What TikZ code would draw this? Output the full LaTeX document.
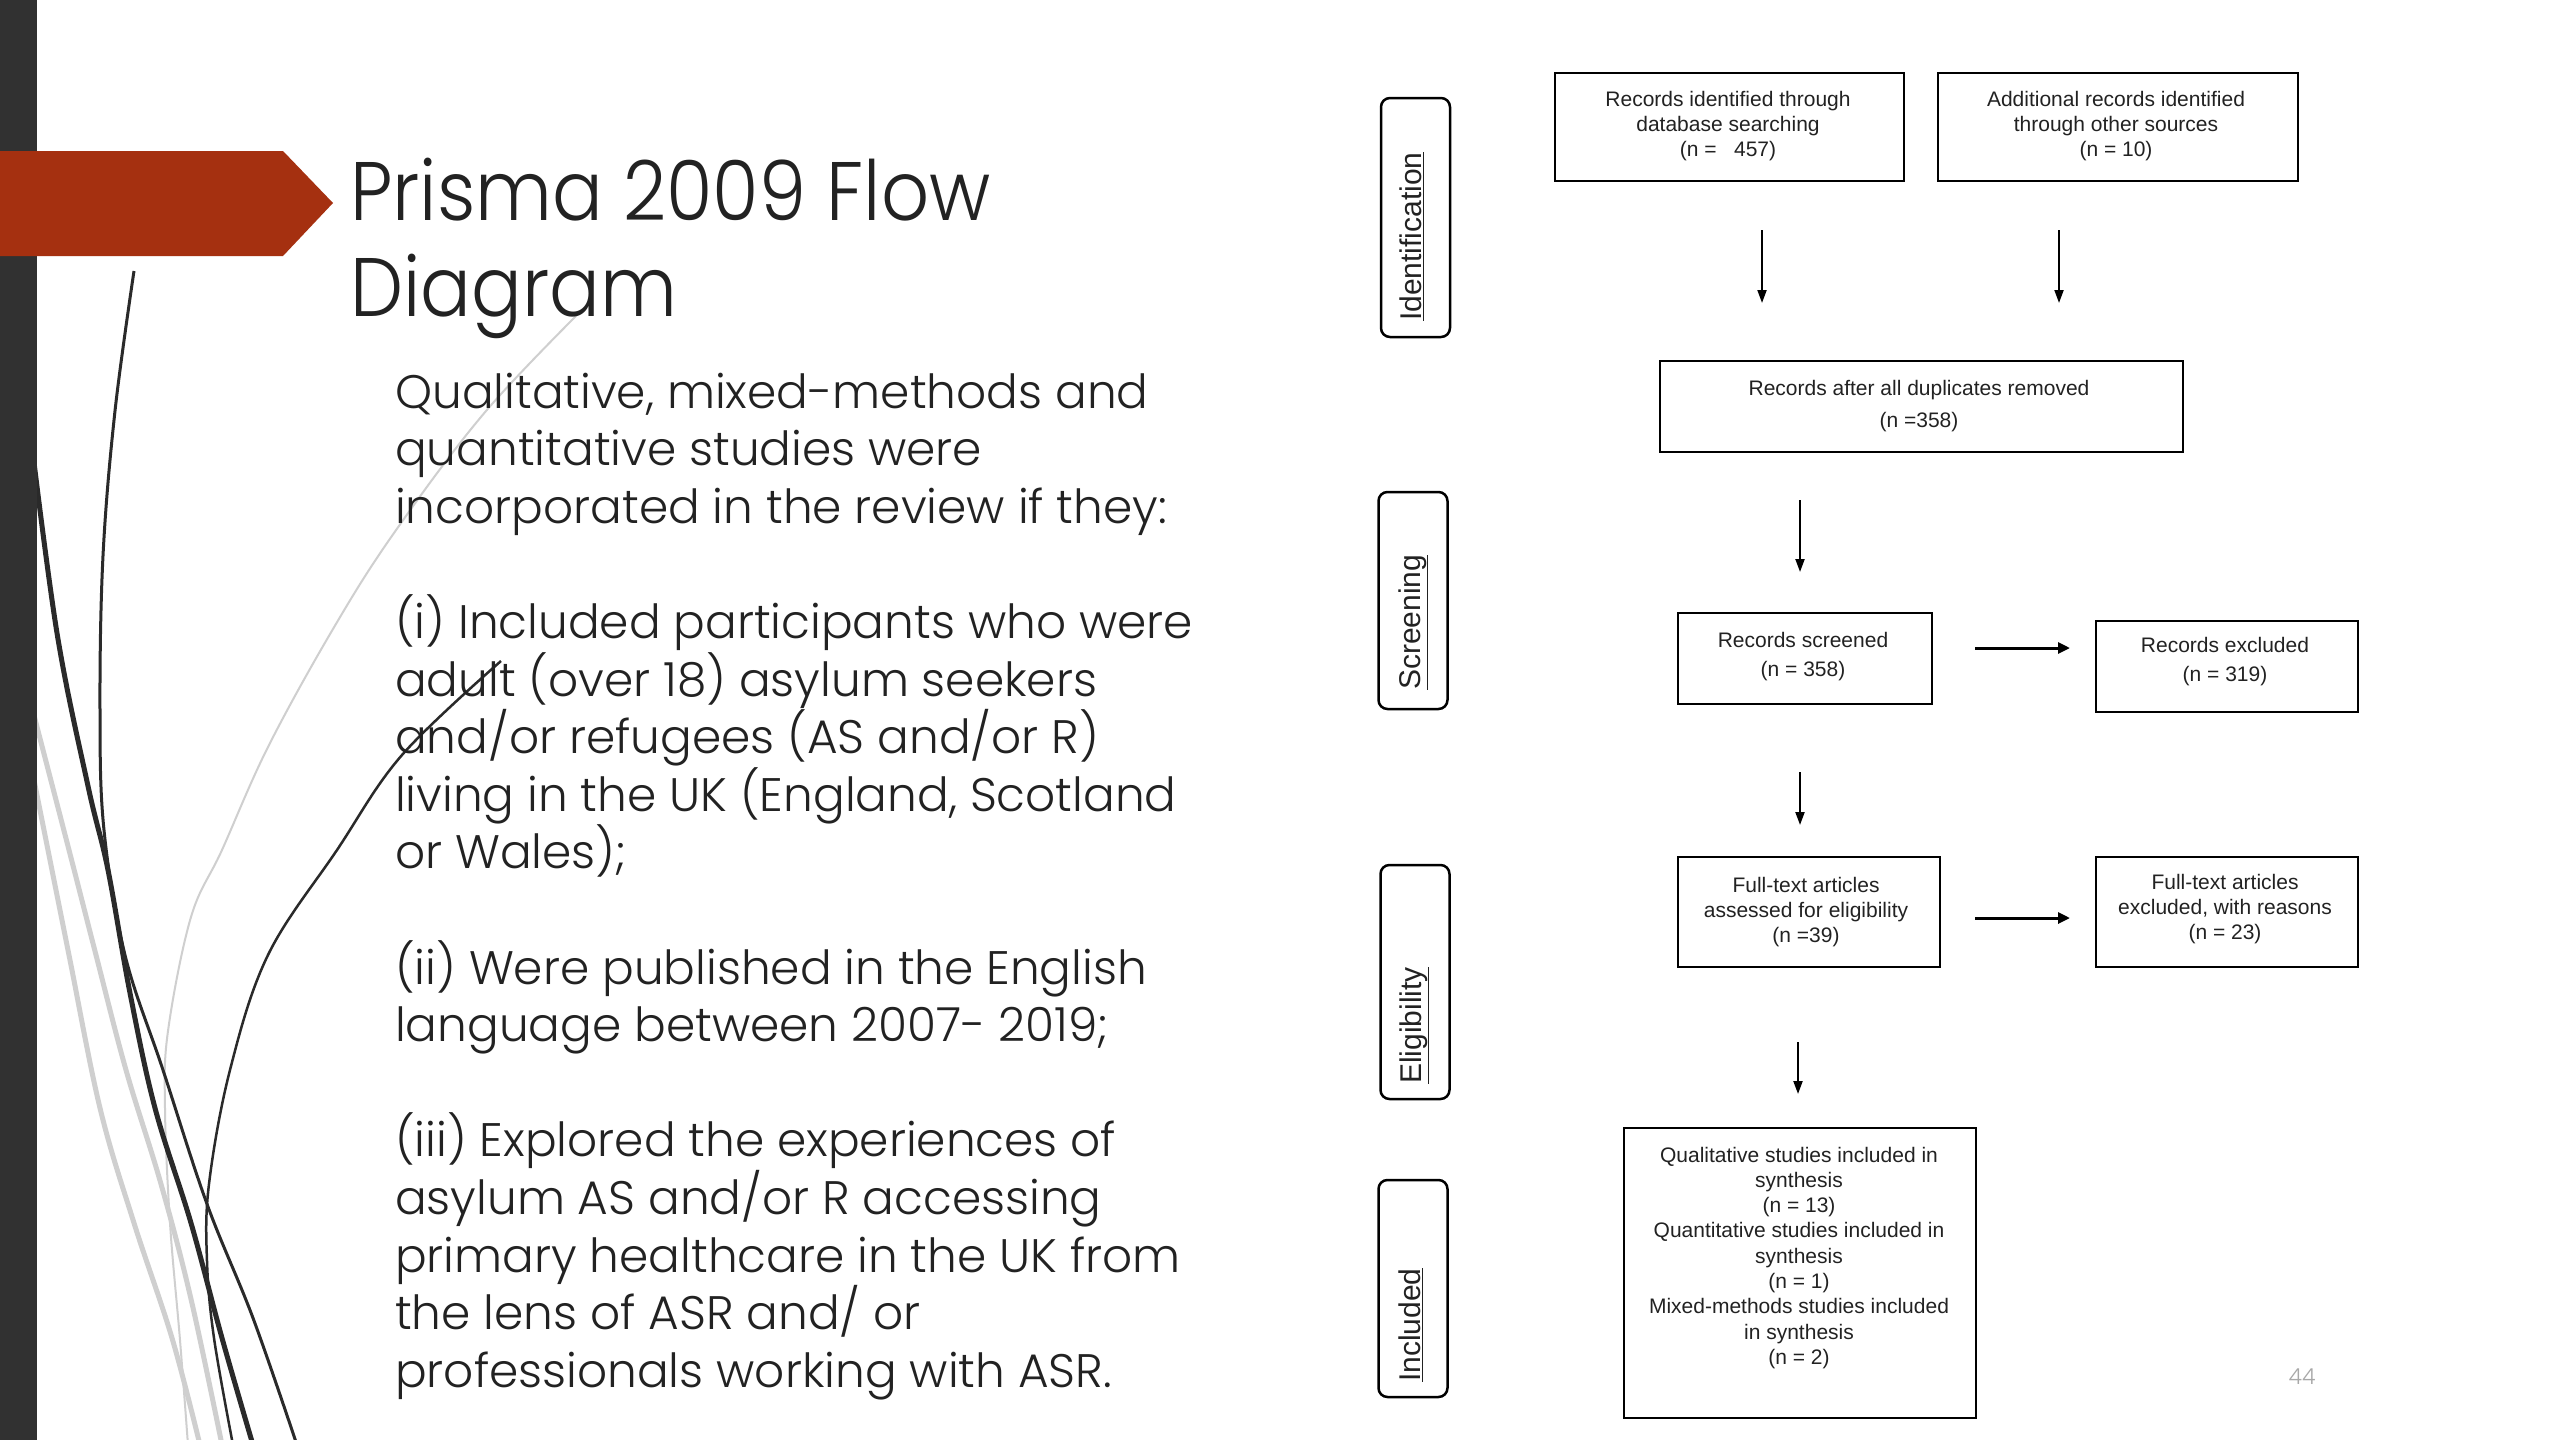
\documentclass[tikz,border=0pt]{standalone}
\usepackage{graphicx}
\usepackage{fontspec}
\usetikzlibrary{arrows.meta}
\setmainfont{Liberation Sans}
\IfFontExistsTF{Poppins Light}{\newfontfamily\gothic{Poppins Light}}{\newfontfamily\gothic{Poppins}}
\newfontfamily\arialf{Liberation Sans}
\definecolor{rust}{HTML}{A53010}
\definecolor{barc}{HTML}{313131}
\definecolor{inkc}{HTML}{222222}
\definecolor{curvedark}{HTML}{2A2A2A}
\definecolor{curvegray}{HTML}{CFCFCF}
\definecolor{pagenum}{HTML}{A8A8A8}
\tikzset{
  fbox/.style={draw=black, line width=2.5pt, inner sep=0pt},
  stagebox/.style={draw=black, line width=2.5pt, rounded corners=9pt, inner sep=0pt, minimum width=69pt},
  stagelabel/.style={rotate=90, anchor=base west, inner sep=0pt, text=inkc, font=\arialf\fontsize{30}{36}\selectfont},
  btxt/.style={anchor=base, inner sep=0pt, align=center, text=inkc},
  body/.style={anchor=base west, inner sep=0pt, text=inkc, font=\gothic\fontsize{47}{57.6}\selectfont},
  ttl/.style={anchor=base west, inner sep=0pt, text=inkc, font=\gothic\fontsize{83}{96}\selectfont},
  downarrow/.style={draw=black, line width=2pt, -{Triangle[length=13pt,width=9pt]}},
  rightarrow/.style={draw=black, line width=3pt, -{Triangle[length=12pt,width=11pt]}}
}
\begin{document}
\begin{tikzpicture}[x=1pt,y=-1pt]
\useasboundingbox (0,0) rectangle (2560,1440);
\fill[white] (0,0) rectangle (2560,1440);

% decorative curves
\draw[curvegray, line width=5pt] plot[smooth, tension=0.6] coordinates {(30,700) (69,850) (96,955) (126,1070) (161,1184) (191,1299) (222,1445)};
\draw[curvegray, line width=5pt] plot[smooth, tension=0.6] coordinates {(30,760) (46,840) (69,955) (100,1108) (134,1223) (172,1338) (200,1445)};
\draw[curvegray, line width=2pt] plot[smooth, tension=0.6] coordinates {(592,300) (486,411) (394,533) (333,629) (268,747) (222,850) (191,917) (168,1031) (165,1108) (170,1223) (180,1340) (188,1445)};
\draw[curvedark, line width=5pt] plot[smooth, tension=0.6] coordinates {(30,430) (57,633) (88,786) (108,870) (130,993) (155,1108) (191,1223) (222,1338) (253,1445)};
\draw[curvedark, line width=3pt] plot[smooth, tension=0.6] coordinates {(134,271) (115,411) (103,556) (100,709) (104,830) (125,955) (163,1070) (207,1204) (253,1318) (297,1445)};
\draw[curvedark, line width=2.5pt] plot[smooth, tension=0.6] coordinates {(501,661) (402,755) (337,850) (268,955) (230,1070) (209,1184) (207,1261) (214,1338) (233,1445)};

% left bar and banner
\fill[barc] (0,0) rectangle (37,1440);
\fill[rust] (0,151) -- (283,151) -- (333,203) -- (283,256) -- (0,256) -- cycle;

% title
\node (t1) [ttl] at (350,220) {\scalebox{0.906}[1]{Prisma 2009 Flow}};
\node (t2) [ttl] at (350,316) {\scalebox{0.906}[1]{Diagram}};

% body text
\node (l1) [body] at (395,408) {Qualitative, mixed-methods and};
\node (l2) [body] at (395,465.6) {quantitative studies were};
\node (l3) [body] at (395,523.2) {incorporated in the review if they:};
\node (l4) [body] at (395,638.4) {(i) Included participants who were};
\node (l5) [body] at (395,696) {adult (over 18) asylum seekers};
\node (l6) [body] at (395,753.6) {and/or refugees (AS and/or R)};
\node (l7) [body] at (395,811.2) {living in the UK (England, Scotland};
\node (l8) [body] at (395,868.8) {or Wales);};
\node (l9) [body] at (395,984) {(ii) Were published in the English};
\node (l10) [body] at (395,1041.6) {language between 2007- 2019;};
\node (l11) [body] at (395,1156.8) {(iii) Explored the experiences of};
\node (l12) [body] at (395,1214.4) {asylum AS and/or R accessing};
\node (l13) [body] at (395,1272) {primary healthcare in the UK from};
\node (l14) [body] at (395,1329.6) {the lens of ASR and/ or};
\node (l15) [body] at (395,1387.2) {professionals working with ASR.};

% stage boxes
\node (sI) [stagebox, minimum height=239pt] at (1415.5,217.5) {};
\node (sS) [stagebox, minimum height=217pt] at (1413,600.5) {};
\node (sE) [stagebox, minimum height=234pt] at (1415,982) {};
\node (sN) [stagebox, minimum height=217pt] at (1413,1288.5) {};
\node (lI) [stagelabel] at (1421,321) {\underline{Identification}};
\node (lS) [stagelabel] at (1420,690) {\underline{Screening}};
\node (lE) [stagelabel] at (1421,1084) {\underline{Eligibility}};
\node (lN) [stagelabel] at (1420,1382) {\underline{Included}};

% flow boxes
\node (A) [fbox, minimum width=349pt, minimum height=108pt] at (1729.5,127) {};
\node (B) [fbox, minimum width=360pt, minimum height=108pt] at (2118,127) {};
\node (C) [fbox, minimum width=523pt, minimum height=91pt] at (1921.5,406.5) {};
\node (D) [fbox, minimum width=254pt, minimum height=91pt] at (1805,658.5) {};
\node (E) [fbox, minimum width=262pt, minimum height=91pt] at (2227,666.5) {};
\node (F) [fbox, minimum width=262pt, minimum height=110pt] at (1809,912) {};
\node (G) [fbox, minimum width=262pt, minimum height=110pt] at (2227,912) {};
\node (H) [fbox, minimum width=352pt, minimum height=290pt] at (1800,1273) {};

% box texts (anchor = baseline of last line)
\node (At) [btxt, font=\arialf\fontsize{21}{25}\selectfont] at (1728,156) {Records identified through\\database searching\\(n = \ \ 457)};
\node (Bt) [btxt, font=\arialf\fontsize{21}{25}\selectfont] at (2116,156) {Additional records identified\\through other sources\\(n = 10)};
\node (Ct) [btxt, font=\arialf\fontsize{21}{32}\selectfont] at (1919,427) {Records after all duplicates removed\\(n =358)};
\node (Dt) [btxt, font=\arialf\fontsize{21}{29}\selectfont] at (1803,676) {Records screened\\(n = 358)};
\node (Et) [btxt, font=\arialf\fontsize{21}{29}\selectfont] at (2225,681) {Records excluded\\(n = 319)};
\node (Ft) [btxt, font=\arialf\fontsize{21}{25}\selectfont] at (1806,942) {Full-text articles\\assessed for eligibility\\(n =39)};
\node (Gt) [btxt, font=\arialf\fontsize{21}{25}\selectfont] at (2225,939) {Full-text articles\\excluded, with reasons\\(n = 23)};
\node (Ht) [btxt, font=\arialf\fontsize{21}{25.3}\selectfont] at (1799,1364.4) {Qualitative studies included in\\synthesis\\(n = 13)\\Quantitative studies included in\\synthesis\\(n = 1)\\Mixed-methods studies included\\in synthesis\\(n = 2)};

% arrows
\coordinate (a1s) at (1762,230); \coordinate (a1e) at (1762,303);
\coordinate (a2s) at (2059,230); \coordinate (a2e) at (2059,303);
\coordinate (a3s) at (1800,500); \coordinate (a3e) at (1800,572);
\coordinate (a4s) at (1975,648); \coordinate (a4e) at (2070,648);
\coordinate (a5s) at (1800,772); \coordinate (a5e) at (1800,825);
\coordinate (a6s) at (1975,918); \coordinate (a6e) at (2070,918);
\coordinate (a7s) at (1798,1042); \coordinate (a7e) at (1798,1094);
\draw[downarrow] (a1s) -- (a1e);
\draw[downarrow] (a2s) -- (a2e);
\draw[downarrow] (a3s) -- (a3e);
\draw[rightarrow] (a4s) -- (a4e);
\draw[downarrow] (a5s) -- (a5e);
\draw[rightarrow] (a6s) -- (a6e);
\draw[downarrow] (a7s) -- (a7e);

% page number
\node (pg) [inner sep=0pt, text=pagenum, font=\gothic\fontsize{22}{26}\selectfont] at (2302,1377) {44};
\end{tikzpicture}
\end{document}
